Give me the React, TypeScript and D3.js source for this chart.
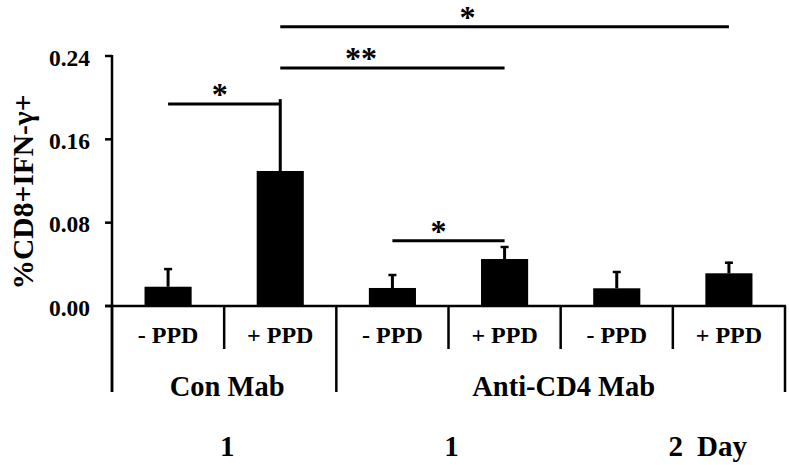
import React from "react";
import * as d3 from "d3";

const subLabels = ["- PPD", "+ PPD", "- PPD", "+ PPD", "- PPD", "+ PPD"];
const means = [0.0185, 0.1296, 0.0173, 0.0451, 0.017, 0.0314];
const errors = [0.0179, 0.069, 0.0134, 0.0125, 0.0166, 0.0111];
const groupNames = ["Con Mab", "Anti-CD4 Mab"];
const groupSpans = [[0, 2], [2, 6]];
const dayLabels = ["1", "1", "2"];
const dayPairs = [[0, 1], [2, 3], [4, 5]];
const yTicks = [0, 0.08, 0.16, 0.24];
const sigFrom = [0, 1, 1, 2];
const sigTo = [1, 3, 5, 3];
const sigLevel = [0.194, 0.2285, 0.268, 0.0627];
const sigMarks = ["*", "**", "*", "*"];
const sigMarkAt = [0.46, 1.72, 2.67, 2.41];

const W = 789;
const H = 465;
const FONT = "'Liberation Serif', 'Times New Roman', serif";

export default function App() {
  const left = 112;
  const right = 785;
  const y = d3.scaleLinear().domain([0, 0.24]).range([306, 56]);
  const pad = 0.58;
  const x = d3
    .scaleBand<number>()
    .domain(means.map((_, i) => i))
    .range([left, right])
    .paddingInner(pad)
    .paddingOuter(pad / 2);
  const step = x.step();
  const bw = x.bandwidth();
  const cx = (i: number) => (x(i) as number) + bw / 2;
  const boundary = (i: number) => left + i * step;
  const contPos = (v: number) => left + (v + 0.5) * step;
  const y0 = y(0);
  const showCap = [true, false, true, true, true, true];

  return (
    <svg
      width={W}
      height={H}
      style={{ position: "absolute", left: 0, top: 0, background: "#fff" }}
      fontFamily={FONT}
      fontWeight="bold"
    >
      <rect width={W} height={H} fill="#fff" />
      {/* y-axis title */}
      <text
        transform={`translate(33,${192}) rotate(-90)`}
        textAnchor="middle"
        fontSize={29.5}
        fill="#000"
      >
        %CD8+IFN-γ+
      </text>
      {/* y axis */}
      <line x1={left} x2={left} y1={y(0.24) - 1} y2={392} stroke="#000" strokeWidth={2.5} />
      {yTicks.map((t) => (
        <g key={t}>
          <line x1={left - 7} x2={left} y1={y(t)} y2={y(t)} stroke="#000" strokeWidth={2.5} />
          <text x={90} y={y(t) + 1.5} textAnchor="end" dominantBaseline="central" fontSize={23.5} fill="#000">
            {d3.format(".2f")(t)}
          </text>
        </g>
      ))}
      {/* bars */}
      {means.map((m, i) => (
        <g key={i}>
          <line x1={cx(i)} x2={cx(i)} y1={y(m)} y2={y(m + errors[i])} stroke="#000" strokeWidth={3} />
          {showCap[i] && (
            <line x1={cx(i) - 4} x2={cx(i) + 4} y1={y(m + errors[i]) + 1} y2={y(m + errors[i]) + 1} stroke="#000" strokeWidth={2.5} />
          )}
          <rect x={x(i)} y={y(m)} width={bw} height={y0 - y(m)} fill="#000" />
        </g>
      ))}
      {/* x axis */}
      <line x1={left - 7} x2={right + 1} y1={y0} y2={y0} stroke="#000" strokeWidth={2.5} />
      {d3.range(means.length + 1).map((i) => {
        const long = i === 0 || i === means.length || groupSpans.some((g) => g[0] === i);
        return (
          <line key={i} x1={boundary(i)} x2={boundary(i)} y1={y0} y2={long ? 392 : 349} stroke="#000" strokeWidth={2.5} />
        );
      })}
      {subLabels.map((s, i) => (
        <text key={i} x={cx(i)} y={343} textAnchor="middle" fontSize={24} fill="#000">
          {s}
        </text>
      ))}
      {groupNames.map((g, k) => (
        <text key={g} x={(boundary(groupSpans[k][0]) + boundary(groupSpans[k][1])) / 2 + 3} y={396} textAnchor="middle" fontSize={28.5} fill="#000">
          {g}
        </text>
      ))}
      {dayLabels.map((d, k) => (
        <text key={k} x={(cx(dayPairs[k][0]) + cx(dayPairs[k][1])) / 2 + 3} y={456} textAnchor="middle" fontSize={29} fill="#000">
          {d}
        </text>
      ))}
      <text x={697} y={456} fontSize={29} fill="#000">Day</text>
      {/* significance */}
      {sigLevel.map((lv, k) => (
        <g key={k}>
          <line x1={cx(sigFrom[k])} x2={cx(sigTo[k])} y1={y(lv)} y2={y(lv)} stroke="#000" strokeWidth={3} />
          <text x={contPos(sigMarkAt[k])} y={y(lv) + 1} textAnchor="middle" fontSize={32} fill="#000">
            {sigMarks[k]}
          </text>
        </g>
      ))}
    </svg>
  );
}
